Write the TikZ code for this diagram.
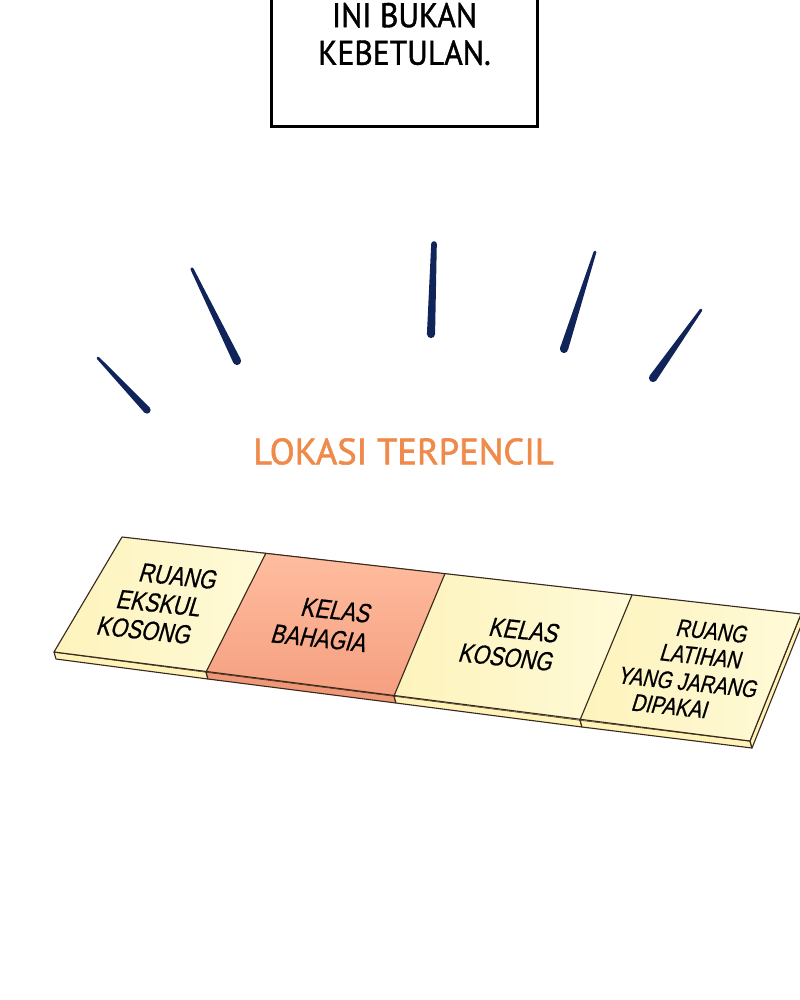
\documentclass[tikz,border=0pt]{standalone}
\usepackage{fontspec}
\setmainfont{Liberation Sans}
\newfontfamily\notefont{PT Sans}[FakeBold=1.2, FakeStretch=0.92]
\newfontfamily\titlefont{PT Sans}[FakeBold=1.6]
\newfontfamily\roomfont{Liberation Sans}[FakeStretch=0.8, FakeBold=0.6, FakeSlant=0.2]
\usetikzlibrary{calc}
\definecolor{ink}{HTML}{10245A}
\definecolor{titleorange}{HTML}{EF8A4B}
\definecolor{roomyellow}{HTML}{FDF3BC}
\definecolor{roomyellowlight}{HTML}{FFFAD8}
\definecolor{roompeach}{HTML}{FFBD9F}
\definecolor{roomorange}{HTML}{F59F80}
\definecolor{edgeyellow}{HTML}{FFF3B8}
\definecolor{edgeorange}{HTML}{EF9777}
\definecolor{boardline}{HTML}{3A2A1E}
\tikzset{x=0.025cm, y=-0.025cm, % one unit = one pixel of the page, y downwards
notebox/.style={ % the caption box at the top
draw, line width=2.2pt,
minimum width=6.65cm, minimum height=4.625cm,
align=center, font=\notefont\fontsize{24.4}{26.7}\selectfont},
title/.style={text=titleorange, inner sep=0pt,
font=\titlefont\fontsize{26}{30}\selectfont},
room/.style={inner sep=0pt, rotate=-6,
font=\roomfont\fontsize{19}{21}\selectfont},
smallroom/.style={room, font=\roomfont\fontsize{17.4}{19}\selectfont},
yellowroom/.style={left color=roomyellow, right color=roomyellowlight},
peachroom/.style={top color=roompeach, bottom color=roomorange},
edge/.style={draw=boardline, line width=0.8pt, line join=round}}
% tapered brush stroke: thin end, thick end, half widths
\newcommand{\brushstroke}[4]{%
\fill[ink] ($(#1)!#3!90:(#2)$) -- ($(#2)!#4!-90:(#1)$) -- ($(#2)!#4!90:(#1)$) -- ($(#1)!#3!-90:(#2)$) -- cycle;
\fill[ink] (#2) circle[radius=#4];
\fill[ink] (#1) circle[radius=#3];}
\begin{document}
\begin{tikzpicture}
\useasboundingbox (0,0) rectangle (800,1000);

\node[notebox] (note) at (404.5,34) {INI BUKAN\\KEBETULAN.};

% burst lines
\coordinate (s1a) at (98,358);  \coordinate (s1b) at (147,410);
\coordinate (s2a) at (192,269); \coordinate (s2b) at (237,361);
\coordinate (s3a) at (434,244); \coordinate (s3b) at (431,334);
\coordinate (s4a) at (595,252); \coordinate (s4b) at (564,349);
\coordinate (s5a) at (701,310); \coordinate (s5b) at (653,378);
\brushstroke{s1a}{s1b}{1pt}{2.6pt}
\brushstroke{s2a}{s2b}{1.1pt}{2.9pt}
\brushstroke{s3a}{s3b}{2pt}{2.9pt}
\brushstroke{s4a}{s4b}{1pt}{2.9pt}
\brushstroke{s5a}{s5b}{1pt}{2.9pt}

\node[title] (place) at (403.5,451.5) {LOKASI TERPENCIL};

% board corners and dividers
\coordinate (tl) at (122,537);
\coordinate (tr) at (801,614);
\coordinate (br) at (750,741);
\coordinate (bl) at (54,652);
\coordinate (d1t) at (266,553);   \coordinate (d1b) at (206,672);
\coordinate (d2t) at (445,573.5); \coordinate (d2b) at (394,696);
\coordinate (d3t) at (632,595);   \coordinate (d3b) at (580,720);
\coordinate (down) at (2,7);

% thickness of the board
\filldraw[edge, fill=edgeyellow] (bl) -- (d1b) -- ($(d1b)+(down)$) -- ($(bl)+(down)$) -- cycle;
\filldraw[edge, fill=edgeorange] (d1b) -- (d2b) -- ($(d2b)+(down)$) -- ($(d1b)+(down)$) -- cycle;
\filldraw[edge, fill=edgeyellow] (d2b) -- (d3b) -- ($(d3b)+(down)$) -- ($(d2b)+(down)$) -- cycle;
\filldraw[edge, fill=edgeyellow] (d3b) -- (br) -- ($(br)+(down)$) -- ($(d3b)+(down)$) -- cycle;
\filldraw[edge, fill=edgeyellow] (br) -- (tr) -- ($(tr)+(down)$) -- ($(br)+(down)$) -- cycle;

% top of the board
\fill[yellowroom] (tl) -- (d1t) -- (d1b) -- (bl) -- cycle;
\fill[peachroom] (d1t) -- (d2t) -- (d2b) -- (d1b) -- cycle;
\fill[yellowroom] (d2t) -- (d3t) -- (d3b) -- (d2b) -- cycle;
\fill[yellowroom] (d3t) -- (tr) -- (br) -- (d3b) -- cycle;
\draw[edge] (tl) -- (tr) -- (br) -- (bl) -- cycle;
\draw[edge] (d1t) -- (d1b);
\draw[edge] (d2t) -- (d2b);
\draw[edge] (d3t) -- (d3b);

% room names
\node[room] (r1a) at (177,576) {RUANG};
\node[room] (r1b) at (158,603) {EKSKUL};
\node[room] (r1c) at (143,630) {KOSONG};
\node[room] (r2a) at (335,610) {KELAS};
\node[room] (r2b) at (318,638) {BAHAGIA};
\node[room] (r3a) at (523,630) {KELAS};
\node[room] (r3b) at (505,657) {KOSONG};
\node[smallroom] (r4a) at (711,631) {RUANG};
\node[smallroom] (r4b) at (700,656) {LATIHAN};
\node[smallroom] (r4c) at (687,682) {YANG JARANG};
\node[smallroom] (r4d) at (669,706) {DIPAKAI};
\end{tikzpicture}
\end{document}
